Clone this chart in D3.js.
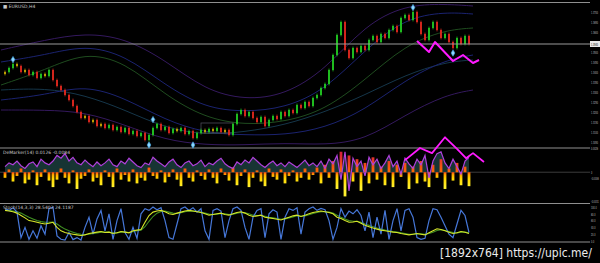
<!DOCTYPE html>
<html lang="en">
<head>
<meta charset="UTF-8">
<title>EURUSD H4 with DeMarker + Stochastic</title>
<style>
  html, body { margin: 0; padding: 0; background: #000; }
  svg  { display: block; }
  text { font-family: "DejaVu Sans", sans-serif; }
  .lbl { font-size: 4.5px; fill: #c8c8c8; }
  .axis text { font-size: 4px; fill: #bdbdbd; }
</style>
</head>
<body>
<svg id="chart" width="600" height="263"></svg>
<script src="https://d3js.org/d3.v7.min.js"></script>
<script>
/* ---------- 1) DATA (read off the picture) ---------- */
const firstOpen = 1.3390;
const closes = [
  1.3400, 1.3420, 1.3440, 1.3430, 1.3400, 1.3410, 1.3385, 1.3400, 1.3370, 1.3390, 1.3380, 1.3410, 1.3360,
  1.3330, 1.3310, 1.3285, 1.3260, 1.3230, 1.3200, 1.3170, 1.3180, 1.3150, 1.3160, 1.3130, 1.3140, 1.3120,
  1.3135, 1.3110, 1.3125, 1.3100, 1.3120, 1.3090, 1.3105, 1.3080, 1.3095, 1.3060, 1.3085, 1.3120, 1.3140,
  1.3110, 1.3125, 1.3095, 1.3115, 1.3105, 1.3120, 1.3090, 1.3105, 1.3070, 1.3095, 1.3110, 1.3100, 1.3115,
  1.3105, 1.3120, 1.3100, 1.3110, 1.3085, 1.3140, 1.3190, 1.3210, 1.3180, 1.3200, 1.3170, 1.3150, 1.3175,
  1.3130, 1.3160, 1.3180, 1.3165, 1.3200, 1.3180, 1.3210, 1.3195, 1.3235, 1.3220, 1.3250, 1.3230, 1.3270,
  1.3285, 1.3320, 1.3340, 1.3410, 1.3485, 1.3585, 1.3650, 1.3510, 1.3470, 1.3520, 1.3500, 1.3530, 1.3510,
  1.3560, 1.3580, 1.3550, 1.3590, 1.3570, 1.3610, 1.3630, 1.3600, 1.3670, 1.3685, 1.3660, 1.3700, 1.3650,
  1.3590, 1.3560, 1.3620, 1.3650, 1.3610, 1.3570, 1.3590, 1.3550, 1.3520, 1.3570, 1.3540, 1.3580, 1.3540
];
const lastPrice = 1.3540;

// envelope / band curves (anchor bar index + price)
const bandIdx    = [-1, 10, 20, 30, 40, 50, 60, 70, 80, 90, 100, 110, 117];
const bandOuterU = [1.3510, 1.3560, 1.3595, 1.3570, 1.3460, 1.3310, 1.3260, 1.3285, 1.3410, 1.3635, 1.3735, 1.3740, 1.3730];
const bandInnerU = [1.3450, 1.3485, 1.3535, 1.3485, 1.3335, 1.3220, 1.3200, 1.3220, 1.3310, 1.3510, 1.3670, 1.3700, 1.3690];
const slowMA     = [1.3335, 1.3410, 1.3500, 1.3450, 1.3285, 1.3170, 1.3135, 1.3150, 1.3210, 1.3360, 1.3535, 1.3610, 1.3620];
const midMA      = [1.3310, 1.3320, 1.3285, 1.3210, 1.3120, 1.3085, 1.3100, 1.3135, 1.3200, 1.3285, 1.3385, 1.3450, 1.3460];
const bandInnerL = [1.3260, 1.3285, 1.3335, 1.3270, 1.3160, 1.3095, 1.3085, 1.3085, 1.3120, 1.3210, 1.3360, 1.3460, 1.3485];
const bandOuterL = [1.3210, 1.3210, 1.3200, 1.3135, 1.3060, 1.3035, 1.3035, 1.3045, 1.3035, 1.3060, 1.3185, 1.3285, 1.3310];

// fractal markers
const markerIdx   = [2, 37, 36, 47, 102, 112];
const markerPrice = [1.3462, 1.3162, 1.3035, 1.3035, 1.3722, 1.3495];

// range box
const boxIdx   = [49, 57];
const boxPrice = [1.3145, 1.3095];

// zigzag drawn on price
const zzMainIdx   = [103, 106, 107.5, 112, 114.5, 117, 118.5];
const zzMainPrice = [1.3555, 1.3500, 1.3550, 1.3455, 1.3485, 1.3445, 1.3460];

// sub window 1: histogram (x 0.0001) and oscillator line
const hist = [
  -6, 3, -10, -4, 4, -12, -8, 2, -14, -5, 3, -9, -16,
  -8, 4, -6, -12, 2, -18, -7, -4, 3, -10, -6, -14, 2,
  -5, -16, 4, -8, -3, -10, 3, -12, -6, -9, 5, -4, -7,
  2, -11, -5, 3, -8, -15, 4, -6, -10, 2, -4, -8, 3,
  -6, -12, 4, -3, -9, 5, -14, -4, 3, -16, -6, 2, -10,
  -15, 4, -5, -8, 3, -12, -4, 2, -10, -6, 4, -8, -3,
  5, -12, 8, -6, 12, -18, 22, -26, 18, -10, 14, -20, 10,
  -12, 16, -8, 6, -14, 12, -16, 8, -5, 10, -18, 6, -12,
  12, -10, -16, 8, -6, 14, -18, 4, -9, 10, -14, 6, -15
];
const oscLine = [
  6, 10, 8, 12, 7, 4, 9, 11, 6, 14, 10, 8, 12,
  18, 15, 20, 12, 16, 10, 8, 13, 9, 6, 11, 7, 10,
  14, 8, 6, 12, 9, 15, 11, 7, 5, 10, 8, 16, 12,
  9, 6, 11, 14, 8, 5, 10, 12, 7, 9, 13, 6, 10,
  8, 12, 15, 9, 6, 4, 11, 8, 13, 10, 16, 12, 8,
  5, 9, 12, 7, 10, 6, 11, 8, 5, 9, 13, 7, 10,
  6, 12, 4, 14, 9, 18, -8, 22, -20, 15, 6, 12, -4,
  16, 8, 14, 4, 10, 18, 6, 12, -2, 15, 9, 4, 14,
  8, 18, -6, 12, 20, 22, 10, 4, 14, 6, -2, 12, 16
];
const zzSubIdx = [100, 103.75, 106.75, 110, 113, 115.25, 117, 119.75];
const zzSubVal = [13, 26, 20.5, 37.5, 25, 15, 20.5, 11];

// sub window 2: stochastic
const stochK = [
  95, 90, 98, 85, 10, 40, 5, 30, 8, 45, 20, 95, 100,
  15, 5, 3, 25, 4, 10, 3, 40, 70, 20, 65, 90, 30,
  80, 5, 60, 95, 25, 5, 40, 8, 80, 95, 90, 100, 92,
  98, 60, 10, 5, 50, 95, 100, 90, 98, 85, 95, 30, 5,
  90, 95, 88, 10, 60, 95, 100, 90, 40, 5, 70, 90, 95,
  10, 80, 92, 85, 5, 70, 95, 90, 98, 20, 85, 95, 100,
  90, 96, 92, 60, 5, 40, 95, 70, 88, 80, 92, 75, 30,
  85, 10, 70, 20, 90, 5, 60, 95, 30, 90, 95, 70, 10,
  5, 8, 60, 95, 92, 70, 45, 20, 10, 50, 90, 75, 25
];
const stochD = [
  90, 88, 86, 82, 75, 68, 60, 58, 55, 52, 50, 52, 55,
  40, 30, 25, 22, 20, 18, 16, 18, 22, 24, 26, 28, 25,
  26, 22, 24, 28, 26, 24, 30, 32, 34, 55, 75, 85, 88,
  90, 86, 80, 78, 82, 85, 88, 90, 88, 86, 84, 80, 76,
  78, 80, 82, 78, 76, 80, 84, 86, 82, 76, 72, 74, 76,
  70, 68, 66, 64, 62, 66, 70, 74, 76, 72, 76, 80, 84,
  86, 88, 86, 84, 80, 70, 66, 60, 55, 56, 58, 52, 46,
  42, 38, 35, 32, 30, 28, 26, 25, 22, 20, 18, 20, 22,
  20, 18, 24, 30, 36, 34, 30, 26, 22, 24, 28, 26, 22
];
const stochSlow = [
  92, 90, 88, 86, 82, 76, 70, 65, 60, 57, 55, 55, 56,
  50, 42, 35, 30, 26, 22, 20, 19, 20, 22, 24, 26, 26,
  26, 24, 24, 26, 26, 25, 27, 30, 32, 42, 58, 72, 82,
  87, 88, 85, 82, 81, 83, 86, 88, 88, 87, 85, 82, 79,
  78, 79, 81, 80, 78, 79, 82, 84, 83, 80, 76, 75, 75,
  73, 70, 68, 66, 64, 65, 68, 71, 74, 73, 74, 77, 81,
  84, 86, 86, 85, 82, 76, 70, 65, 60, 58, 58, 55, 50,
  46, 42, 38, 35, 32, 30, 28, 26, 24, 22, 20, 20, 21,
  21, 20, 22, 26, 31, 33, 31, 28, 25, 24, 26, 26, 24
];

// axis tick labels (1.3550 sits under the price tag, so it is left out)
const priceTicks = [1.3050, 1.3100, 1.3150, 1.3200, 1.3250, 1.3300, 1.3350, 1.3400,
                    1.3450, 1.3500, 1.3600, 1.3650, 1.3700];
const histTicks  = [26, 0, -6, -31];
const stochTicks = [0, 20, 40, 60, 80, 100];

/* ---------- 2) LAYOUT + SCALES ---------- */
const svg = d3.select('#chart');
const plotR = 590;

svg.append('rect').attr('width', 600).attr('height', 263).attr('fill', '#000');

const x = d3.scaleLinear().domain([0, 116]).range([5, 469]);
const yPrice = d3.scaleLinear().domain([1.3025, 1.3745]).range([147, 3]);
const yHist  = d3.scaleLinear().domain([-32, 26]).range([202, 148]);
const yStoch = d3.scaleLinear().domain([0, 100]).range([241, 207]);

const defs = svg.append('defs');
defs.append('clipPath').attr('id', 'clipMain')
    .append('rect').attr('x', 0).attr('y', 3).attr('width', plotR).attr('height', 144);

const gNeg = defs.append('linearGradient').attr('id', 'negGrad')
    .attr('gradientUnits', 'userSpaceOnUse')
    .attr('x1', 0).attr('x2', 0).attr('y1', yHist(0)).attr('y2', yHist(-16));
gNeg.append('stop').attr('offset', '0%').attr('stop-color', '#ff4a10');
gNeg.append('stop').attr('offset', '18%').attr('stop-color', '#ffa800');
gNeg.append('stop').attr('offset', '45%').attr('stop-color', '#ffd800');
gNeg.append('stop').attr('offset', '100%').attr('stop-color', '#fff030');

const gPos = defs.append('linearGradient').attr('id', 'posGrad')
    .attr('gradientUnits', 'userSpaceOnUse')
    .attr('x1', 0).attr('x2', 0).attr('y1', yHist(0)).attr('y2', yHist(20));
gPos.append('stop').attr('offset', '0%').attr('stop-color', '#ff6a00');
gPos.append('stop').attr('offset', '100%').attr('stop-color', '#d8203a');

/* ---------- 3) PANEL FRAMES ---------- */
[2.5, 148, 203.5, 242].forEach(yy => {
  svg.append('line')
     .attr('x1', 0).attr('x2', plotR).attr('y1', yy).attr('y2', yy)
     .attr('stroke', '#8f8f8f').attr('stroke-width', 1.2);
});

/* ---------- 4) MAIN PANEL ---------- */
const gMain = svg.append('g').attr('clip-path', 'url(#clipMain)');

const bands = [
  { v: bandOuterU, c: '#34195e' },
  { v: bandInnerU, c: '#1b2370' },
  { v: slowMA,     c: '#1f4c1f' },
  { v: midMA,      c: '#15364a' },
  { v: bandInnerL, c: '#1b2370' },
  { v: bandOuterL, c: '#34195e' }
];
const bandLine = d3.line().curve(d3.curveBasis)
    .x((d, i) => x(bandIdx[i]))
    .y(d => yPrice(d));
gMain.selectAll('path.band')
    .data(bands).enter().append('path')
    .attr('class', 'band')
    .attr('d', d => bandLine(d.v))
    .attr('fill', 'none')
    .attr('stroke', d => d.c)
    .attr('stroke-width', 1);

gMain.append('rect')
    .attr('x', x(boxIdx[0])).attr('y', yPrice(boxPrice[0]))
    .attr('width', x(boxIdx[1]) - x(boxIdx[0]))
    .attr('height', yPrice(boxPrice[1]) - yPrice(boxPrice[0]))
    .attr('fill', 'none').attr('stroke', '#4a4a58').attr('stroke-width', 0.8);

// current price line
svg.append('line')
    .attr('x1', 0).attr('x2', plotR)
    .attr('y1', yPrice(lastPrice)).attr('y2', yPrice(lastPrice))
    .attr('stroke', '#9a9a9a').attr('stroke-width', 1);

// candles
const candles = closes.map((c, i) => {
  const o = i === 0 ? firstOpen : closes[i - 1];
  return { i, o, c };
});
const wick = 0.0007;
const candleColor = d => Math.abs(d.c - d.o) < 0.0011 ? '#c8a800'
                       : (d.c > d.o ? '#22c822' : '#e0281e');

gMain.selectAll('line.stem')
    .data(candles).enter().append('line')
    .attr('class', 'stem')
    .attr('x1', d => x(d.i)).attr('x2', d => x(d.i))
    .attr('y1', d => yPrice(Math.max(d.o, d.c) + wick))
    .attr('y2', d => yPrice(Math.min(d.o, d.c) - wick))
    .attr('stroke', candleColor).attr('stroke-width', 0.8);

gMain.selectAll('rect.candle')
    .data(candles).enter().append('rect')
    .attr('class', 'candle')
    .attr('x', d => x(d.i) - 0.9)
    .attr('y', d => yPrice(Math.max(d.o, d.c)))
    .attr('width', 1.8)
    .attr('height', d => Math.max(1, Math.abs(yPrice(d.o) - yPrice(d.c))))
    .attr('fill', candleColor);

// fractal markers
svg.selectAll('path.frac')
    .data(markerIdx).enter().append('path')
    .attr('class', 'frac')
    .attr('transform', (d, i) => `translate(${x(d)},${yPrice(markerPrice[i])})`)
    .attr('d', d3.symbol().type(d3.symbolDiamond).size(12))
    .attr('fill', '#8fd8ff').attr('stroke', '#3aa0e0').attr('stroke-width', 0.6);

// zigzag on price
svg.append('path')
    .datum(zzMainIdx)
    .attr('d', d3.line().x(d => x(d)).y((d, i) => yPrice(zzMainPrice[i])))
    .attr('fill', 'none').attr('stroke', '#ff1aff').attr('stroke-width', 2)
    .attr('stroke-linejoin', 'round');

/* ---------- 5) SUB WINDOW 1 ---------- */
svg.append('line')
    .attr('x1', 0).attr('x2', plotR).attr('y1', yHist(0)).attr('y2', yHist(0))
    .attr('stroke', '#3c3c3c').attr('stroke-width', 1);

svg.append('path')
    .datum(oscLine)
    .attr('d', d3.area().x((d, i) => x(i)).y0(yHist(0)).y1(d => yHist(d)))
    .attr('fill', '#1f4646').attr('opacity', 0.75);

svg.selectAll('rect.hist')
    .data(hist).enter().append('rect')
    .attr('class', 'hist')
    .attr('x', (d, i) => x(i) - 1.4)
    .attr('y', d => d >= 0 ? yHist(d) : yHist(0))
    .attr('width', 2.8)
    .attr('height', d => Math.abs(yHist(d) - yHist(0)))
    .attr('fill', d => d >= 0 ? 'url(#posGrad)' : 'url(#negGrad)');

svg.append('path')
    .datum(oscLine)
    .attr('d', d3.line().x((d, i) => x(i)).y(d => yHist(d)))
    .attr('fill', 'none').attr('stroke', '#b040dc').attr('stroke-width', 1.2);

svg.append('path')
    .datum(zzSubIdx)
    .attr('d', d3.line().x(d => x(d)).y((d, i) => yHist(zzSubVal[i])))
    .attr('fill', 'none').attr('stroke', '#ff1aff').attr('stroke-width', 1.8)
    .attr('stroke-linejoin', 'round');

/* ---------- 6) SUB WINDOW 2 ---------- */
const stochLine = d3.line().x((d, i) => x(i)).y(d => yStoch(d));
svg.append('path').datum(stochSlow).attr('d', stochLine)
    .attr('fill', 'none').attr('stroke', '#3f8f22').attr('stroke-width', 1.1);
svg.append('path').datum(stochK).attr('d', stochLine)
    .attr('fill', 'none').attr('stroke', '#4677d8').attr('stroke-width', 1.2);
svg.append('path').datum(stochD).attr('d', stochLine)
    .attr('fill', 'none').attr('stroke', '#d6e62a').attr('stroke-width', 1.1);

/* ---------- 7) RIGHT AXES ---------- */
function rightAxis(scale, ticks, fmt) {
  const g = svg.append('g').attr('class', 'axis')
      .attr('transform', `translate(${plotR},0)`)
      .call(d3.axisRight(scale).tickValues(ticks).tickFormat(fmt).tickSize(0).tickPadding(2));
  g.select('.domain').remove();
  // squeeze the labels horizontally into the narrow strip at the right edge
  g.selectAll('text').attr('transform', 'scale(0.5,1)');
  return g;
}
rightAxis(yPrice, priceTicks, d3.format('.4f'));
rightAxis(yHist, histTicks, d => d === 0 ? '0' : (d / 10000).toFixed(4));
rightAxis(yStoch, stochTicks, d => d.toFixed(1));

// current price tag
svg.append('rect')
    .attr('x', plotR).attr('y', yPrice(lastPrice) - 3)
    .attr('width', 10).attr('height', 6).attr('fill', '#e8e8e8');
svg.append('text')
    .attr('transform', `translate(${plotR + 1},${yPrice(lastPrice) + 1.5}) scale(0.5,1)`)
    .attr('font-size', 4).attr('fill', '#000')
    .text(d3.format('.4f')(lastPrice));

/* ---------- 8) LABELS ---------- */
svg.append('text').attr('class', 'lbl').attr('x', 3).attr('y', 7.5)
    .text('\u25A0 EURUSD,H4');
svg.append('text').attr('class', 'lbl').attr('x', 3).attr('y', 153.5)
    .text('DeMarker(14) 0.0126 -0.0084');
svg.append('text').attr('class', 'lbl').attr('x', 3).attr('y', 209)
    .text('Stoch(14,3,3) 28.5402 24.1187');

svg.append('text')
    .attr('transform', 'translate(440,257) scale(0.9,1)')
    .attr('font-size', 12).attr('fill', '#ececec')
    .text('[1892x764] https://upic.me/');
</script>
</body>
</html>
